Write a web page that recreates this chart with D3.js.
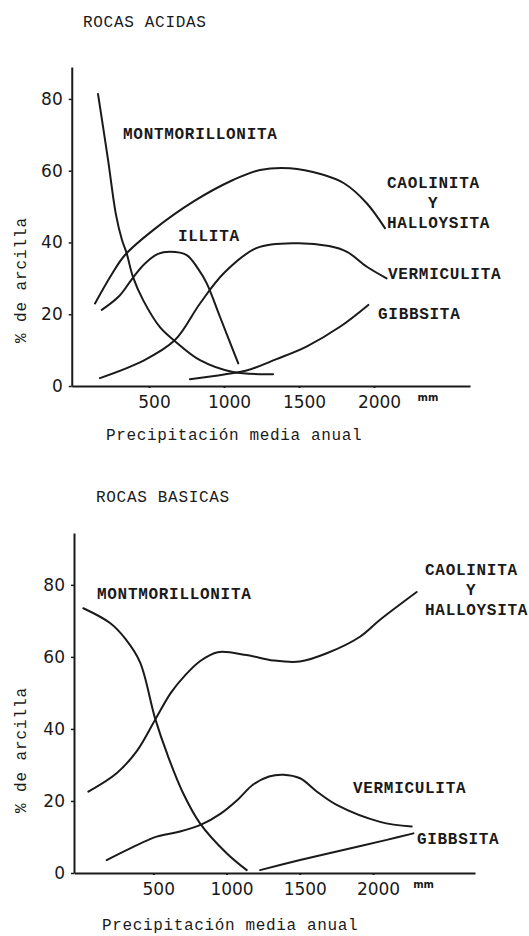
<!DOCTYPE html>
<html>
<head>
<meta charset="utf-8">
<script src="https://cdn.jsdelivr.net/npm/d3@7/dist/d3.min.js"></script>
<style>
  html, body { margin: 0; padding: 0; background: #ffffff; }
  svg { display: block; }
</style>
</head>
<body>
<svg id="chart" width="529" height="936"></svg>
<script>
// ---------------- DATA ----------------
const xTickValues = [500, 1000, 1500, 2000];
const yTickValues = [0, 20, 40, 60, 80];
const xUnit = "mm";
const xTitle = "Precipitación media anual";
const yTitle = "% de arcilla";

// ROCAS ACIDAS  [precipitation mm, % clay]
const acidMontmorillonita = [[160,81.4],[227,63],[280,47.7],[320,40.7],[351,37],[393,30.4],[460,24],[573,16.4],[687,12],[840,7.2],[1060,3.9],[1327,3.3]];
const acidCaolinita = [[140,23],[250,31],[340,36.5],[530,43.5],[800,51.5],[1060,57.4],[1240,60.2],[1440,60.7],[1650,59],[1800,56.5],[1950,51],[2073,44]];
const acidIllita = [[185,21.2],[300,25],[390,30],[470,34],[560,36.8],[640,37.4],[751,36.5],[830,32.5],[885,28.6],[973,19.3],[1095,6.3]];
const acidVermiculita = [[173,2.2],[460,7],[673,12.8],[840,23],[1000,31.5],[1220,38.5],[1480,39.8],[1700,39],[1820,37.4],[1950,33.3],[2084,30]];
const acidGibbsita = [[773,1.9],[1000,3.2],[1150,4.3],[1350,7.5],[1550,11],[1773,16.5],[1962,22.6]];

// ROCAS BASICAS
const basicMontmorillonita = [[23,73.5],[205,69.4],[310,65],[410,58.5],[512,43],[600,32.5],[700,22.5],[819,13.8],[1001,5.5],[1138,0.8]];
const basicCaolinita = [[57,22.6],[250,27.7],[390,34],[512,42.5],[620,50],[720,55],[819,58.8],[940,61.3],[1138,60.5],[1320,59],[1500,58.7],[1684,61],[1911,65.6],[2048,70.3],[2298,78]];
const basicVermiculita = [[182,3.6],[350,7],[523,10.1],[683,11.5],[830,13.5],[960,16.5],[1080,20.5],[1180,24.5],[1290,26.8],[1388,27.3],[1502,26.3],[1620,22.5],[1752,18.9],[2048,14.2],[2264,12.9]];
const basicGibbsita = [[1229,0.8],[1502,3.6],[1797,6.4],[2094,9.2],[2276,11]];

// Label texts with anchor points in data units
const acidLabels = [
  {lines:["MONTMORILLONITA"], at:[327,70.5], anchor:"start"},
  {lines:["ILLITA"], at:[693,42], anchor:"start"},
  {lines:["CAOLINITA","Y","HALLOYSITA"], at:[2087,56.9], anchor:"start"},
  {lines:["VERMICULITA"], at:[2093,31.5], anchor:"start"},
  {lines:["GIBBSITA"], at:[2027,20.3], anchor:"start"}
];
const basicLabels = [
  {lines:["MONTMORILLONITA"], at:[116,77.8], anchor:"start"},
  {lines:["CAOLINITA","Y","HALLOYSITA"], at:[2355,84.4], anchor:"start"},
  {lines:["VERMICULITA"], at:[1863,23.9], anchor:"start"},
  {lines:["GIBBSITA"], at:[2300,9.7], anchor:"start"}
];

// ---------------- LAYOUT ----------------
const panels = [
  { title: "ROCAS ACIDAS", titlePos: [83, 27],
    xDomain: [-15, 2640], xRange: [71.75, 470],
    yDomain: [0, 88.9], yRange: [386, 67],
    series: [acidMontmorillonita, acidCaolinita, acidIllita, acidVermiculita, acidGibbsita],
    labels: acidLabels, unitAt: 2360, xTitlePos: [106, 440], yTitleCenter: [22, 280] },
  { title: "ROCAS BASICAS", titlePos: [96, 502],
    xDomain: [-41, 2696], xRange: [74, 475],
    yDomain: [0, 94.4], yRange: [873, 533],
    series: [basicMontmorillonita, basicCaolinita, basicVermiculita, basicGibbsita],
    labels: basicLabels, unitAt: 2345, xTitlePos: [102, 930], yTitleCenter: [22, 750] }
];

const monoFont = "'Liberation Mono', 'DejaVu Sans Mono', monospace";
const sansFont = "'DejaVu Sans', sans-serif";
const ink = "#1a1a1a";

const svg = d3.select("#chart");

panels.forEach(p => {
  const x = d3.scaleLinear().domain(p.xDomain).range(p.xRange);
  const y = d3.scaleLinear().domain(p.yDomain).range(p.yRange);
  const g = svg.append("g");

  // title
  g.append("text")
    .attr("x", p.titlePos[0]).attr("y", p.titlePos[1])
    .attr("font-family", monoFont).attr("font-size", 16)
    .attr("letter-spacing", 0.7).attr("fill", ink)
    .text(p.title);

  // x axis
  const xAxis = d3.axisBottom(x).tickValues(xTickValues).tickFormat(d3.format("d"))
    .tickSizeInner(2).tickSizeOuter(0).tickPadding(8);
  const gx = g.append("g").attr("transform", `translate(0,${y(0)})`).call(xAxis);
  gx.select(".domain").attr("stroke", ink).attr("stroke-width", 2);
  gx.selectAll(".tick line").attr("stroke", ink).attr("stroke-width", 2);
  gx.selectAll(".tick text").attr("font-family", sansFont).attr("font-size", 17)
    .attr("fill", ink).attr("dx", 5);

  // y axis
  const yAxis = d3.axisLeft(y).tickValues(yTickValues).tickFormat(d3.format("d"))
    .tickSizeInner(3).tickSizeOuter(0).tickPadding(6);
  const gy = g.append("g").attr("transform", `translate(${x(p.xDomain[0])},0)`).call(yAxis);
  gy.select(".domain").attr("stroke", ink).attr("stroke-width", 2);
  gy.selectAll(".tick line").attr("stroke", ink).attr("stroke-width", 1.5);
  gy.selectAll(".tick text").attr("font-family", sansFont).attr("font-size", 17).attr("fill", ink);

  // unit
  g.append("text")
    .attr("x", x(p.unitAt)).attr("y", y(0) + 15)
    .attr("text-anchor", "middle")
    .attr("font-family", sansFont).attr("font-size", 10).attr("font-weight", "bold")
    .attr("fill", ink).text(xUnit);

  // axis titles
  g.append("text")
    .attr("x", p.xTitlePos[0]).attr("y", p.xTitlePos[1])
    .attr("font-family", monoFont).attr("font-size", 16)
    .attr("letter-spacing", 0.65).attr("fill", ink)
    .text(xTitle);
  g.append("text")
    .attr("transform", `translate(${p.yTitleCenter[0]},${p.yTitleCenter[1]}) rotate(-90)`)
    .attr("text-anchor", "middle").attr("dominant-baseline", "middle")
    .attr("font-family", monoFont).attr("font-size", 16)
    .attr("letter-spacing", 0.9).attr("fill", ink)
    .text(yTitle);

  // curves
  const line = d3.line().x(d => x(d[0])).y(d => y(d[1])).curve(d3.curveCatmullRom.alpha(0.5));
  g.selectAll("path.curve").data(p.series).enter().append("path")
    .attr("class", "curve")
    .attr("d", line)
    .attr("fill", "none").attr("stroke", ink).attr("stroke-width", 2)
    .attr("stroke-linecap", "round");

  // labels
  p.labels.forEach(l => {
    const t = g.append("text")
      .attr("font-family", monoFont).attr("font-size", 16).attr("font-weight", "bold")
      .attr("letter-spacing", 0.7).attr("fill", ink)
      .attr("text-anchor", l.anchor);
    l.lines.forEach((s, i) => {
      const isMid = l.lines.length === 3 && i === 1;
      t.append("tspan")
        .attr("x", isMid ? x(l.at[0]) + 46 : x(l.at[0]))
        .attr("y", y(l.at[1]) + 6 + i * 20)
        .attr("text-anchor", isMid ? "middle" : l.anchor)
        .text(s);
    });
  });
});
</script>
</body>
</html>
